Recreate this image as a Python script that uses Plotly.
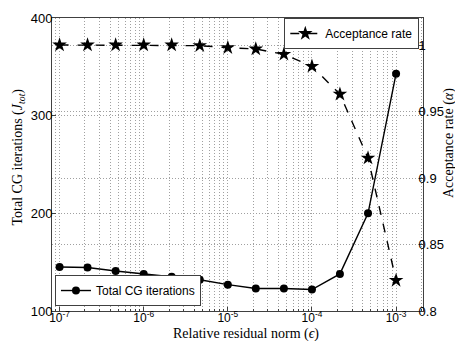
import plotly.graph_objects as go

# relative residual norm (epsilon), 3 points per decade
eps = [1e-7, 2.15e-7, 4.64e-7, 1e-6, 2.15e-6, 4.64e-6, 1e-5,
       2.15e-5, 4.64e-5, 1e-4, 2.15e-4, 4.64e-4, 1e-3]
cg_iters = [145, 144.5, 141, 138, 135, 132, 127, 123, 123, 122, 138, 200, 343]
accept = [1.0, 1.0, 1.0, 1.0, 1.0, 0.9995, 0.998, 0.997, 0.993, 0.984, 0.963, 0.915, 0.823]

major_x = [1e-7, 1e-6, 1e-5, 1e-4, 1e-3]
major_x_text = ["10<sup>-7</sup>", "10<sup>-6</sup>", "10<sup>-5</sup>",
                "10<sup>-4</sup>", "10<sup>-3</sup>"]
minor_x = [m * 10.0 ** e for e in range(-8, -2) for m in range(2, 10)]

SANS = "Liberation Sans, Arial, sans-serif"
SERIF = "Liberation Serif, Times New Roman, serif"
GRID = "#a0a0a0"
AXIS = "#404040"
DOT = "1px,2px"

fig = go.Figure()

fig.add_trace(go.Scatter(
    x=eps, y=cg_iters, name="Total CG iterations",
    mode="lines+markers",
    line=dict(color="black", width=1.4),
    marker=dict(symbol="circle", size=8, color="black"),
    legend="legend2",
))

fig.add_trace(go.Scatter(
    x=eps, y=accept, name="Acceptance rate", yaxis="y2",
    mode="lines+markers",
    line=dict(color="black", width=1.4, dash="dash"),
    marker=dict(symbol="star", size=11, color="black"),
    legend="legend",
))

grid = dict(showgrid=True, gridcolor=GRID, griddash=DOT, gridwidth=1)

fig.update_layout(
    width=463, height=341,
    margin=dict(l=44, r=48, t=10, b=38),
    paper_bgcolor="white", plot_bgcolor="white",
    font=dict(family=SANS, size=13, color="black"),
    showlegend=True,
    xaxis=dict(
        type="log", range=[-7.09, -2.68],
        tickvals=major_x, ticktext=major_x_text,
        ticks="inside", ticklen=4, tickcolor=AXIS,
        showline=True, linecolor=AXIS, mirror=True,
        minor=dict(tickvals=minor_x, ticks="inside", ticklen=2, tickcolor=AXIS, **grid),
        tickfont=dict(family=SANS, size=12), ticklabelstandoff=-4,
        zeroline=False, automargin=False, **grid,
    ),
    yaxis=dict(
        range=[100, 400], tickvals=[100, 200, 300, 400],
        ticks="inside", ticklen=4, tickcolor=AXIS,
        showline=True, linecolor=AXIS,
        tickfont=dict(family=SANS, size=13), ticklabelstandoff=-4,
        zeroline=False, automargin=False, **grid,
    ),
    yaxis2=dict(
        overlaying="y", side="right",
        range=[0.8, 1.0203], tickvals=[0.8, 0.85, 0.9, 0.95, 1.0],
        ticktext=["0.8", "0.85", "0.9", "0.95", "1"],
        ticks="inside", ticklen=4, tickcolor=AXIS,
        showline=True, linecolor=AXIS,
        tickfont=dict(family=SANS, size=13), ticklabelstandoff=-8,
        zeroline=False, automargin=False, **grid,
    ),
    legend=dict(
        x=0.99, y=1.0, xanchor="right", yanchor="top",
        bgcolor="white", bordercolor=AXIS, borderwidth=1,
        font=dict(family=SANS, size=12),
        itemwidth=30, tracegroupgap=0,
    ),
    legend2=dict(
        x=0.008, y=0.017, xanchor="left", yanchor="bottom",
        bgcolor="white", bordercolor=AXIS, borderwidth=1,
        font=dict(family=SANS, size=12),
        itemwidth=30, tracegroupgap=0,
    ),
    annotations=[
        dict(text="Relative residual norm (<i>ϵ</i>)", xref="paper", yref="paper",
             x=0.523, y=-0.078, xanchor="center", yanchor="middle", showarrow=False,
             font=dict(family=SERIF, size=14)),
        dict(text="Total CG iterations (<i>J<sub>tot</sub></i>)", xref="paper", yref="paper",
             x=-0.09, y=0.526, xanchor="center", yanchor="middle", showarrow=False,
             textangle=-90, font=dict(family=SERIF, size=14)),
        dict(text="Acceptance rate (<i>α</i>)", xref="paper", yref="paper",
             x=1.07, y=0.573, xanchor="center", yanchor="middle", showarrow=False,
             textangle=-90, font=dict(family=SERIF, size=14)),
    ],
)

fig.write_html("out.html")
